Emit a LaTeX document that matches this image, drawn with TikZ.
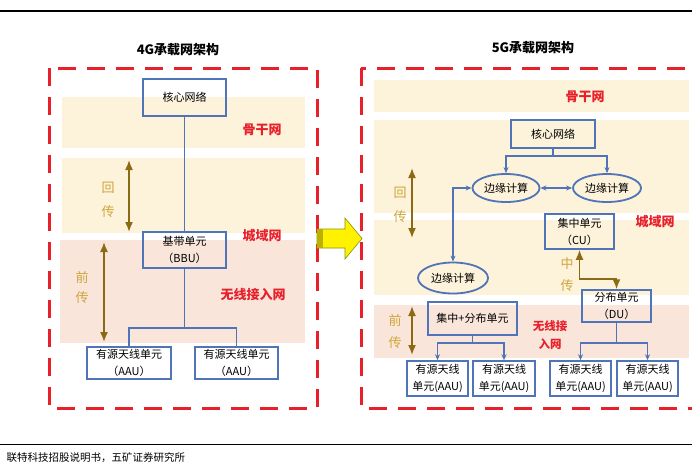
\documentclass[tikz,border=0pt]{standalone}
\usepackage{fontspec}
\setmainfont{Noto Sans CJK SC}
\usetikzlibrary{arrows.meta,shapes.geometric}
\definecolor{bandY}{HTML}{FDF2DA}
\definecolor{bandP}{HTML}{F9E5DA}
\definecolor{boxB}{HTML}{4F74B8}
\definecolor{redD}{HTML}{E8202A}
\definecolor{goldT}{HTML}{CFA63A}
\definecolor{goldA}{HTML}{8C6A14}
\tikzset{
 bandY/.style={fill=bandY,draw=none},
 bandP/.style={fill=bandP,draw=none},
 ubox/.style={draw=boxB,line width=1.5pt,align=center,inner sep=0pt,font=\fontsize{11}{17}\selectfont},
 uell/.style={ellipse,draw=boxB,line width=1.8pt,inner sep=0pt,font=\fontsize{11}{17}\selectfont},
 conn/.style={draw=boxB,line width=1.1pt},
 carr/.style={conn,-{Stealth[length=6pt,width=5pt]}},
 cdbl/.style={conn,{Stealth[length=6pt,width=5pt]}-{Stealth[length=6pt,width=5pt]}},
 redlab/.style={text=redD,align=center,font=\bfseries\fontsize{13}{16}\selectfont},
 goldlab/.style={text=goldT,font=\fontsize{13}{16}\selectfont},
 goldarr/.style={draw=goldA,line width=1.6pt,{Latex[length=10pt,width=8pt]}-{Latex[length=10pt,width=8pt]}},
 reddash/.style={draw=redD,line width=3pt,dash pattern=on 18pt off 11pt},
 titlelab/.style={font=\bfseries\fontsize{13}{16}\selectfont}
}
\begin{document}
\begin{tikzpicture}[x=1pt,y=-1pt]
\useasboundingbox (0,0) rectangle (692,464);
% header / footer rules
\draw[line width=1.2pt] (0,11) -- (692,11);
\draw[line width=1pt] (0,444) -- (692,444);
\node[anchor=west,font=\fontsize{10.5}{12}\selectfont] (src) at (3,458) {联特科技招股说明书，五矿证券研究所};

% ================= 4G =================
\node[titlelab] (t4) at (178,50) {4G承载网架构};
\fill[bandY] (62,97) rectangle (305,148);
\fill[bandY] (62,158) rectangle (305,233);
\fill[bandP] (60,240) rectangle (305,343);
\draw[reddash] (49,68) rectangle (317,408);

\node[ubox,minimum width=83pt,minimum height=37pt] (core4) at (184.5,97.5) {核心网络};
\node[ubox,minimum width=83pt,minimum height=36pt] (bbu) at (184.5,250) {基带单元\\（BBU）};
\node[ubox,minimum width=84pt,minimum height=32pt] (aau1) at (129,363) {有源天线单元\\（AAU）};
\node[ubox,minimum width=83pt,minimum height=32pt] (aau2) at (236.5,363) {有源天线单元\\（AAU）};
\coordinate (j4) at (184.5,328);
\draw[conn] (core4.south) -- (bbu.north);
\draw[conn] (bbu.south) -- (j4);
\draw[conn] (aau1.north) |- (j4) -| (aau2.north);

\node[redlab] (l4a) at (262,130) {骨干网};
\node[redlab] (l4b) at (262,236) {城域网};
\node[redlab] (l4c) at (253,295) {无线接入网};
\node[goldlab] (h4a) at (108,188) {回};
\node[goldlab] (h4b) at (108,212) {传};
\node[goldlab] (q4a) at (82,277) {前};
\node[goldlab] (q4b) at (82,298) {传};
\coordinate (ga1) at (129,160); \coordinate (ga2) at (129,232);
\coordinate (gb1) at (104,242); \coordinate (gb2) at (104,342);
\draw[goldarr] (ga1) -- (ga2);
\draw[goldarr] (gb1) -- (gb2);

% ================= arrow =================
\filldraw[fill=yellow,draw=olive!80!green,line width=0.6pt] (317,229) -- (345,229) -- (345,218) -- (362,238.5) -- (345,259) -- (345,248) -- (317,248) -- cycle;
\fill[fill=olive!60!yellow] (317.4,229.4) rectangle (323,247.6);

% ================= 5G =================
\node[titlelab] (t5) at (533,48) {5G承载网架构};
\fill[bandY] (374,80) rectangle (689,112);
\fill[bandY] (374,120) rectangle (689,213);
\fill[bandY] (374,220) rectangle (689,295);
\fill[bandP] (374,305) rectangle (689,358);
\draw[reddash] (361,68) rectangle (705,408);

\node[ubox,minimum width=84pt,minimum height=28pt] (core5) at (553,134) {核心网络};
\node[uell,minimum width=67pt,minimum height=28pt] (e1) at (506,188) {边缘计算};
\node[uell,minimum width=68pt,minimum height=28pt] (e2) at (607,188) {边缘计算};
\node[uell,minimum width=70pt,minimum height=31pt] (e3) at (453,278) {边缘计算};
\node[ubox,minimum width=69pt,minimum height=35pt] (cu) at (579.5,231.5) {集中单元\\（CU）};
\node[ubox,minimum width=69pt,minimum height=32pt] (du) at (616.5,306) {分布单元\\（DU）};
\node[ubox,minimum width=89pt,minimum height=33pt] (cd) at (472.5,318.5) {集中+分布单元};
\node[ubox,minimum width=61pt,minimum height=35pt] (a1) at (437.5,378.5) {有源天线\\单元(AAU)};
\node[ubox,minimum width=62pt,minimum height=35pt] (a2) at (504,378.5) {有源天线\\单元(AAU)};
\node[ubox,minimum width=61pt,minimum height=35pt] (a3) at (580.5,378.5) {有源天线\\单元(AAU)};
\node[ubox,minimum width=61pt,minimum height=35pt] (a4) at (647.5,378.5) {有源天线\\单元(AAU)};

\coordinate (j5) at (553,156);
\draw[conn] (core5.south) -- (j5);
\draw[carr] (j5) -| (e1.north);
\draw[carr] (j5) -| (e2.north);
\draw[cdbl] (e1.east) -- (e2.west);
\draw[cdbl] (e1.west) -| (e3.north);

\coordinate (j6) at (472.5,343);
\draw[conn] (cd.south) -- (j6);
\draw[carr] (j6) -| (a1.north);
\draw[carr] (j6) -| (a2.north);
\coordinate (j7) at (616.5,343);
\draw[conn] (du.south) -- (j7);
\draw[carr] (j7) -| (a3.north);
\draw[carr] (j7) -| (a4.north);

\draw[goldarr] (cu.south) -- ++(0,29) -| (du.north);

\node[redlab] (l5a) at (585,97) {骨干网};
\node[redlab] (l5b) at (655,222) {城域网};
\node[redlab,font=\bfseries\fontsize{11.5}{18}\selectfont] (l5c) at (550,335) {无线接\\入网};
\node[goldlab] (h5a) at (400,193) {回};
\node[goldlab] (h5b) at (400,217) {传};
\node[goldlab] (z5a) at (567,264) {中};
\node[goldlab] (z5b) at (567,286) {传};
\node[goldlab] (q5a) at (395,320) {前};
\node[goldlab] (q5b) at (395,343) {传};
\coordinate (gc1) at (412,168); \coordinate (gc2) at (412,238);
\coordinate (gd1) at (412,306); \coordinate (gd2) at (412,355);
\draw[goldarr] (gc1) -- (gc2);
\draw[goldarr] (gd1) -- (gd2);
\end{tikzpicture}
\end{document}
